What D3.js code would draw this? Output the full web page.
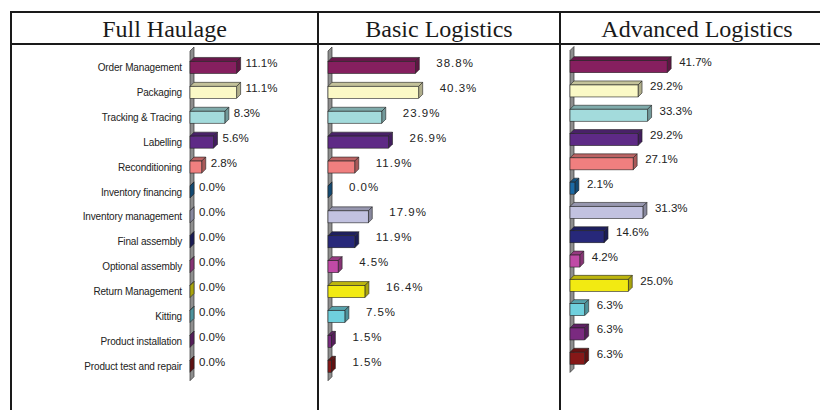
<!DOCTYPE html>
<html>
<head>
<meta charset="utf-8">
<script src="https://cdn.jsdelivr.net/npm/d3@7"></script>
<style>
	body { margin: 0; background: #fff; }
	svg { display: block; }
</style>
</head>
<body>
<svg id="chart" width="820" height="410"></svg>
<script>
const categories = [
	"Order Management", "Packaging", "Tracking & Tracing", "Labelling", "Reconditioning",
	"Inventory financing", "Inventory management", "Final assembly", "Optional assembly",
	"Return Management", "Kitting", "Product installation", "Product  test and repair"
];
const panelTitles = ["Full Haulage", "Basic Logistics", "Advanced Logistics"];
const fullHaulage = [11.1, 11.1, 8.3, 5.6, 2.8, 0.0, 0.0, 0.0, 0.0, 0.0, 0.0, 0.0, 0.0];
const basicLogistics = [38.8, 40.3, 23.9, 26.9, 11.9, 0.0, 17.9, 11.9, 4.5, 16.4, 7.5, 1.5, 1.5];
const advancedLogistics = [41.7, 29.2, 33.3, 29.2, 27.1, 2.1, 31.3, 14.6, 4.2, 25.0, 6.3, 6.3, 6.3];
const barColors = [
	"#861f5f", "#fbf9c6", "#a3dbdc", "#5e2a86", "#f07f7f", "#1b6aa5", "#c2c2e0",
	"#27287a", "#c04aa6", "#f2ea12", "#6fd0dd", "#7a2a80", "#861818"
];

const svg = d3.select("#chart");
const depth = 4;
const barH = 12;

// table frame
const frame = svg.append("g").attr("stroke", "#1a1a1a").attr("stroke-width", 2);
frame.append("line").attr("x1", 10).attr("x2", 820).attr("y1", 12).attr("y2", 12);
frame.append("line").attr("x1", 10).attr("x2", 820).attr("y1", 44).attr("y2", 44);
[11, 318, 560].forEach(x => {
	frame.append("line").attr("x1", x).attr("x2", x).attr("y1", 11).attr("y2", 410);
});

// panel titles
const titleX = [164.5, 439, 697];
panelTitles.forEach((t, i) => {
	svg.append("text")
		.attr("x", titleX[i])
		.attr("y", 37)
		.attr("text-anchor", "middle")
		.attr("font-family", "Liberation Serif, Times New Roman, serif")
		.attr("font-size", 24)
		.attr("fill", "#1a1a1a")
		.text(t);
});

function drawPanel(values, opts) {
	const x = d3.scaleLinear().domain([0, 1]).range([opts.x0, opts.x0 + opts.pxPer]);
	const y = d3.scaleBand().domain(categories).range(opts.yRange);
	const g = svg.append("g");

	// gray back wall
	const wTop = opts.yRange[0] - 3;
	const wBot = opts.yRange[1] + 3;
	g.append("polygon")
		.attr("points", [[opts.x0, wTop], [opts.x0 + depth, wTop - depth], [opts.x0 + depth, wBot - depth], [opts.x0, wBot]].join(" "))
		.attr("fill", "#8e8e8e")
		.attr("stroke", "#333")
		.attr("stroke-width", 0.7);

	const bars = g.selectAll("g.bar")
		.data(values)
		.enter()
		.append("g")
		.attr("class", "bar");

	const geo = (d, i) => {
		const yc = y(categories[i]) + y.bandwidth() / 2 + 1;
		return { x0: x(0), x1: x(d), yt: yc - barH / 2, yb: yc + barH / 2, yc: yc };
	};

	// top face
	bars.append("polygon")
		.attr("points", (d, i) => {
			const b = geo(d, i);
			return [[b.x0, b.yt], [b.x0 + depth, b.yt - depth], [b.x1 + depth, b.yt - depth], [b.x1, b.yt]].join(" ");
		})
		.attr("fill", (d, i) => d3.color(barColors[i]).darker(0.7))
		.attr("stroke", "#222")
		.attr("stroke-width", 0.6);

	// side face
	bars.append("polygon")
		.attr("points", (d, i) => {
			const b = geo(d, i);
			return [[b.x1, b.yt], [b.x1 + depth, b.yt - depth], [b.x1 + depth, b.yb - depth], [b.x1, b.yb]].join(" ");
		})
		.attr("fill", (d, i) => d3.color(barColors[i]).darker(1.0))
		.attr("stroke", "#222")
		.attr("stroke-width", 0.6);

	// front face
	bars.append("rect")
		.attr("x", (d, i) => geo(d, i).x0)
		.attr("y", (d, i) => geo(d, i).yt)
		.attr("width", (d, i) => geo(d, i).x1 - geo(d, i).x0)
		.attr("height", barH)
		.attr("fill", (d, i) => barColors[i])
		.attr("stroke", "#222")
		.attr("stroke-width", 0.6);

	// value labels
	bars.append("text")
		.attr("x", (d, i) => geo(d, i).x1 + opts.labelGap)
		.attr("y", (d, i) => geo(d, i).yc - 3.5)
		.attr("dominant-baseline", "middle")
		.attr("font-family", "Liberation Sans, Arial, sans-serif")
		.attr("font-size", 11.5)
		.attr("letter-spacing", opts.spacing)
		.attr("fill", "#222")
		.text(d => d.toFixed(1) + "%");

	if (opts.showCategories) {
		g.selectAll("text.cat")
			.data(categories)
			.enter()
			.append("text")
			.attr("class", "cat")
			.attr("x", opts.x0 - 8)
			.attr("y", d => y(d) + y.bandwidth() / 2 + 2)
			.attr("text-anchor", "end")
			.attr("dominant-baseline", "middle")
			.attr("font-family", "Liberation Sans, Arial, sans-serif")
			.attr("font-size", 10)
			.attr("letter-spacing", -0.15)
			.attr("fill", "#222")
			.text(d => d);
	}
}

drawPanel(fullHaulage, { x0: 190, pxPer: 4.2, yRange: [54, 377.7], labelGap: 9, spacing: 0, showCategories: true });
drawPanel(basicLogistics, { x0: 328, pxPer: 2.25, yRange: [54, 377.7], labelGap: 21, spacing: 1, showCategories: false });
drawPanel(advancedLogistics, { x0: 570, pxPer: 2.33, yRange: [53.5, 369.4], labelGap: 12, spacing: 0, showCategories: false });
</script>
</body>
</html>
